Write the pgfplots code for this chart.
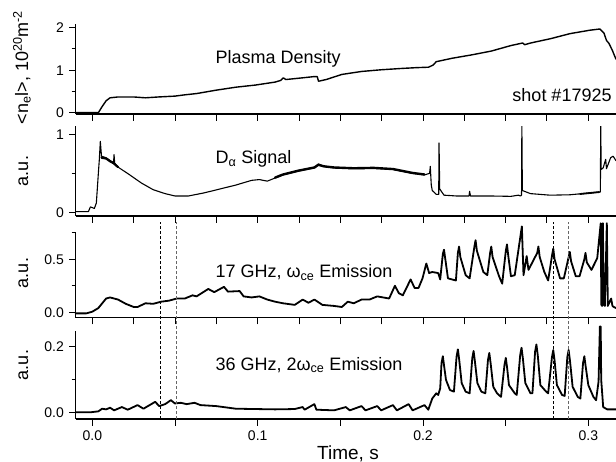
\documentclass[border=0pt]{standalone}
\usepackage{fontspec}
\setmainfont{Liberation Sans}
\usepackage{pgfplots}
\pgfplotsset{compat=1.18}
\newcommand{\tickfont}{\fontsize{14bp}{16bp}\selectfont}
\newcommand{\labfont}{\fontsize{18bp}{21bp}\selectfont}
\pgfplotsset{
  panel/.style={
    scale only axis, width=562.2bp,
    xmin=-0.0101, xmax=0.33,
    axis x line*=bottom, axis y line*=left,
    axis line style={line width=1.1bp},
    tick align=outside,
    every tick/.style={black, line width=1bp},
    major tick length=6.7bp, minor tick length=4bp,
    xtick distance=0.025, xticklabels={},
    tick label style={font=\tickfont},
    yticklabel style={inner sep=0pt, xshift=-5bp},
    anchor=south west,
    clip mode=individual,
    every axis plot/.append style={line join=round, line cap=round},
  }
}
\begin{document}
\begin{tikzpicture}
\useasboundingbox (0,0) rectangle (616bp,-462bp);
\clip (0,0) rectangle (616bp,-462bp);

% Panel 1: plasma density
\begin{axis}[panel, at={(75.7bp,-114bp)}, height=90bp,
  ymin=-0.031, ymax=2.087, ytick={0,1,2}, yticklabels={0,1,2}, minor ytick={0.5,1.5}]
\addplot[black, line width=1.4bp] coordinates {
(-0.0101,0.0) (0.0036,0.0) (0.006,0.15) (0.0083,0.28) (0.0107,0.35) (0.0155,0.37)
(0.025,0.37) (0.032,0.35) (0.04,0.37) (0.05,0.39) (0.0559,0.42) (0.063,0.45)
(0.0749,0.53) (0.0868,0.60) (0.0986,0.65) (0.1105,0.72) (0.114,0.76) (0.1155,0.82)
(0.117,0.78) (0.1271,0.82) (0.1343,0.85) (0.136,0.85) (0.1368,0.74) (0.1414,0.78)
(0.1509,0.90) (0.1628,0.97) (0.1747,1.01) (0.1866,1.04) (0.1961,1.06) (0.2033,1.07)
(0.2061,1.12) (0.2080,1.20) (0.2175,1.28) (0.2294,1.36) (0.2413,1.45) (0.2532,1.58)
(0.2603,1.64) (0.2615,1.60) (0.2651,1.64) (0.2770,1.74) (0.2889,1.86) (0.3008,1.94)
(0.307,1.97) (0.3095,1.87) (0.311,1.70) (0.3125,1.63) (0.3145,1.47) (0.3165,1.28) (0.32,1.1)
};
\node[anchor=west, font=\labfont] at (axis cs:0.0724,1.26) {Plasma Density};
\node[anchor=east, font=\labfont] at (axis cs:0.3162,0.416) {shot \#17925};
\end{axis}

% Panel 2: D alpha
\begin{axis}[panel, at={(75.7bp,-216bp)}, height=90bp,
  ymin=-0.047, ymax=1.107, ytick={0,1}, yticklabels={0,1}, minor ytick={0.5}]
\addplot[black, line width=1.1bp] coordinates {
(-0.0101,0.01) (-0.0024,0.01) (-0.0012,0.07) (0.0,0.06) (0.0012,0.05) (0.0024,0.12)
(0.0036,0.5) (0.0042,0.68) (0.0048,0.91) (0.0055,0.72) (0.0083,0.70) (0.011,0.66)
(0.0128,0.64) (0.0131,0.74) (0.0135,0.63) (0.0155,0.58) (0.0226,0.48) (0.0297,0.375)
(0.0368,0.29) (0.044,0.24) (0.0499,0.21) (0.0582,0.21) (0.0677,0.25) (0.0773,0.30)
(0.0868,0.35) (0.0963,0.41) (0.101,0.42) (0.1058,0.40) (0.1105,0.44) (0.1153,0.48)
(0.1248,0.53) (0.1343,0.57) (0.1367,0.62) (0.14,0.59) (0.1462,0.57) (0.1581,0.56)
(0.17,0.565) (0.1818,0.55) (0.1937,0.50) (0.2009,0.48) (0.2040,0.50) (0.2044,0.59)
(0.2050,0.35) (0.2056,0.28) (0.208,0.23) (0.2095,0.23) (0.2097,0.89) (0.2101,0.30)
(0.2127,0.22) (0.2200,0.21) (0.2278,0.21) (0.2282,0.27) (0.2287,0.21) (0.24,0.21)
(0.2532,0.205) (0.2577,0.22) (0.259,0.21) (0.2596,0.22) (0.2598,1.12) (0.2601,0.28)
(0.265,0.24) (0.2769,0.22) (0.2888,0.225) (0.3066,0.26) (0.3073,0.26) (0.3075,1.12)
(0.3078,0.55) (0.309,0.57) (0.3105,0.68) (0.311,0.56) (0.3126,0.65) (0.3135,0.7)
(0.315,0.72) (0.3168,0.66) (0.32,0.7)
};
\addplot[black, line width=2.2bp] coordinates {
(0.0055,0.70) (0.0083,0.69) (0.011,0.65) (0.0128,0.63) (0.0155,0.58)
};
\addplot[black, line width=2.4bp] coordinates {
(0.1105,0.445) (0.1153,0.485) (0.1248,0.535) (0.1343,0.575) (0.1367,0.61) (0.14,0.59)
(0.1462,0.575) (0.1581,0.565) (0.17,0.57) (0.1818,0.555) (0.1937,0.505) (0.2009,0.485)
};
\addplot[black, line width=1.8bp] coordinates {
(0.295,0.235) (0.3066,0.26)
};
\node[anchor=west, font=\labfont] at (axis cs:0.0724,0.683) {D\textsubscript{α} Signal};
\end{axis}

% Panel 3: 17 GHz
\begin{axis}[panel, at={(75.7bp,-317.7bp)}, height=86bp, clip=false,
  ymin=-0.051, ymax=0.76, ytick={0,0.5}, yticklabels={0.0,0.5}, minor ytick={0.25,0.75}]
\addplot[black, line width=1.8bp] coordinates {
(-0.0101,-0.01) (-0.0036,-0.01) (0,0.006) (0.0036,0.04) (0.0083,0.13) (0.0107,0.14)
(0.0155,0.12) (0.0202,0.08) (0.025,0.05) (0.0273,0.05) (0.0321,0.085) (0.0368,0.08)
(0.0416,0.10) (0.0464,0.11) (0.0511,0.13) (0.0559,0.13) (0.0606,0.16) (0.063,0.15)
(0.0701,0.22) (0.0737,0.19) (0.0796,0.24) (0.082,0.195) (0.0891,0.20) (0.0915,0.15)
(0.0963,0.14) (0.101,0.15) (0.1058,0.12) (0.1105,0.10) (0.1153,0.085) (0.1224,0.07)
(0.1272,0.12) (0.1307,0.09) (0.1343,0.12) (0.1391,0.07) (0.1462,0.06) (0.1509,0.05)
(0.1545,0.10) (0.1581,0.085) (0.1628,0.12) (0.1676,0.12) (0.1723,0.15) (0.1759,0.14)
(0.1795,0.13) (0.183,0.25) (0.1854,0.18) (0.1878,0.16) (0.1925,0.31) (0.1949,0.23)
(0.1973,0.23) (0.1997,0.32) (0.202,0.46) (0.2037,0.37) (0.2056,0.38) (0.2092,0.37)
(0.2104,0.31) (0.212,0.55) (0.2127,0.59) (0.2135,0.50) (0.2151,0.32) (0.2199,0.30)
(0.2211,0.56) (0.2218,0.62) (0.2226,0.52) (0.2258,0.35)
(0.2282,0.32) (0.2311,0.62) (0.2318,0.68) (0.2326,0.58) (0.2365,0.38) (0.2389,0.35)
(0.2406,0.56) (0.2413,0.62) (0.2421,0.52) (0.246,0.34)
(0.2479,0.27) (0.2501,0.58) (0.2508,0.64) (0.2516,0.53) (0.2532,0.34) (0.2555,0.35)
(0.2598,0.81) (0.2608,0.35)
(0.2627,0.53) (0.2638,0.40) (0.2691,0.56) (0.2698,0.62) (0.2706,0.52) (0.2734,0.38)
(0.2757,0.30) (0.2781,0.54) (0.2788,0.60) (0.2796,0.50)
(0.2829,0.32) (0.2852,0.32) (0.2881,0.52) (0.2888,0.57) (0.2896,0.48) (0.2924,0.34)
(0.2947,0.34) (0.2976,0.50) (0.2983,0.56) (0.2991,0.47)
(0.3019,0.40) (0.3054,0.51) (0.3075,0.84) (0.3079,0.07) (0.3083,0.06) (0.3088,0.84)
(0.3094,0.07) (0.3100,0.06) (0.3112,0.84) (0.3118,0.06) (0.3125,0.085) (0.3138,0.13)
(0.3146,0.06) (0.3154,0.05) (0.3168,0.04) (0.32,0.04)
};
\node[anchor=west, font=\labfont] at (axis cs:0.0724,0.374) {17 GHz, ω\textsubscript{ce} Emission};
\end{axis}

% Panel 4: 36 GHz
\begin{axis}[panel, at={(75.7bp,-419bp)}, height=88bp, clip=false,
  ymin=-0.0204, ymax=0.248, ytick={0,0.2}, yticklabels={0.0,0.2}, minor ytick={0.1},
  xtick={0,0.05,0.1,0.15,0.2,0.25,0.3}, xticklabels={0.0,,0.1,,0.2,,0.3},
  xticklabel style={inner sep=0pt, yshift=-5bp}]
\addplot[black, line width=1.8bp] coordinates {
(-0.0101,0.0) (-0.0012,0.0) (0.0036,0.003) (0.0059,0.011) (0.0083,0.009) (0.0107,0.014)
(0.0131,0.006) (0.0178,0.016) (0.0214,0.008) (0.0273,0.022) (0.0309,0.011) (0.038,0.032)
(0.0404,0.019) (0.044,0.025) (0.0475,0.037) (0.0499,0.027) (0.0535,0.029) (0.057,0.025)
(0.0618,0.029) (0.0654,0.022) (0.0749,0.019) (0.0868,0.011) (0.0986,0.010) (0.1105,0.009)
(0.1224,0.01) (0.1272,0.016) (0.1284,0.008) (0.1343,0.025) (0.1355,0.008) (0.1462,0.006)
(0.1533,0.016) (0.1557,0.006) (0.1628,0.019) (0.1652,0.006) (0.1723,0.019) (0.1747,0.006)
(0.1818,0.022) (0.1842,0.006) (0.1913,0.025) (0.1937,0.006) (0.2009,0.022) (0.2032,0.008)
(0.2056,0.042) (0.208,0.058) (0.2092,0.053) (0.2104,0.073)
(0.2112,0.15) (0.212,0.171) (0.2128,0.14) (0.2139,0.099)
(0.2163,0.068) (0.2187,0.063) (0.2203,0.17) (0.2211,0.192) (0.2219,0.16) (0.2234,0.089) (0.2258,0.063) (0.2282,0.058)
(0.2298,0.165) (0.2306,0.187) (0.2314,0.155) (0.2329,0.089) (0.2353,0.063) (0.2377,0.058)
(0.2393,0.16) (0.2401,0.181) (0.2409,0.15) (0.2425,0.078)
(0.2448,0.058) (0.2472,0.047) (0.2493,0.145) (0.2501,0.166) (0.2509,0.135) (0.252,0.083) (0.2555,0.058) (0.2567,0.053)
(0.2588,0.175) (0.2596,0.197) (0.2604,0.165) (0.2619,0.089) (0.265,0.058) (0.2662,0.058)
(0.2678,0.185) (0.2686,0.207) (0.2694,0.175) (0.271,0.083)
(0.2745,0.063) (0.2757,0.058) (0.278,0.168) (0.2788,0.19) (0.2796,0.158) (0.281,0.083) (0.2841,0.053) (0.2857,0.05)
(0.2873,0.168) (0.2881,0.19) (0.2889,0.158) (0.2905,0.078) (0.2936,0.047) (0.2952,0.042)
(0.2968,0.15) (0.2976,0.171) (0.2984,0.14) (0.3,0.083)
(0.3031,0.047) (0.3047,0.037) (0.3062,0.094) (0.307,0.262) (0.3075,0.262) (0.3078,0.099)
(0.309,0.016) (0.3114,0.009) (0.3168,0.009) (0.32,0.009)
};
\node[anchor=west, font=\labfont] at (axis cs:0.0724,0.144) {36 GHz, 2ω\textsubscript{ce} Emission};
\draw[black, line width=0.8bp, dash pattern=on 3bp off 2bp] (axis cs:0.0411,-0.0204) -- (axis cs:0.0411,0.58);
\draw[black!60, line width=0.8bp, dash pattern=on 3bp off 2bp] (axis cs:0.0511,-0.0204) -- (axis cs:0.0511,0.58);
\draw[black, line width=0.8bp, dash pattern=on 3bp off 2bp] (axis cs:0.2788,-0.0204) -- (axis cs:0.2788,0.58);
\draw[black!60, line width=0.8bp, dash pattern=on 3bp off 2bp] (axis cs:0.2881,-0.0204) -- (axis cs:0.2881,0.58);
\end{axis}

\node[rotate=90, anchor=base, font=\labfont] at (28bp,-67.5bp) {<n\textsubscript{e}l>, 10\textsuperscript{20}m\textsuperscript{-2}};
\node[rotate=90, anchor=base, font=\labfont] at (28bp,-171bp) {a.u.};
\node[rotate=90, anchor=base, font=\labfont] at (28bp,-273bp) {a.u.};
\node[rotate=90, anchor=base, font=\labfont] at (28bp,-365bp) {a.u.};
\node[anchor=base, font=\fontsize{19bp}{22bp}\selectfont] at (348bp,-459.5bp) {Time, s};
\end{tikzpicture}
\end{document}
